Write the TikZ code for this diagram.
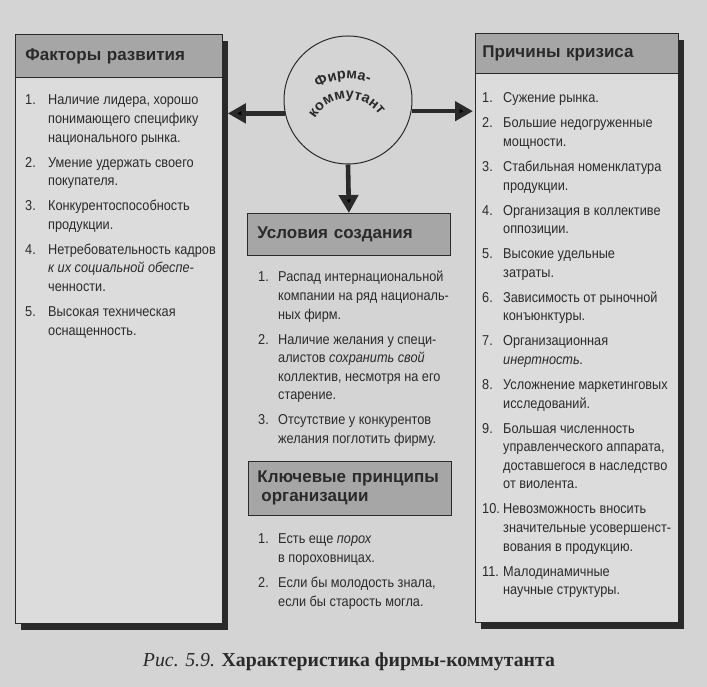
\documentclass[tikz,border=0pt]{standalone}
\usepackage{fontspec}
\setmainfont{Liberation Sans}
\newfontfamily\bodyf[FakeStretch=0.89]{Liberation Sans}
\newfontfamily\capf{Liberation Serif}
\usetikzlibrary{arrows.meta,shadows,decorations.text,calc}
\definecolor{paper}{HTML}{D4D4D4}
\definecolor{boxc}{HTML}{DCDCDC}
\definecolor{headc}{HTML}{A6A6A6}
\definecolor{ink}{HTML}{2A2A2A}
\newcommand\headfont{\bfseries\fontsize{17}{19}\selectfont}
\newcommand\circfont{\bfseries\fontsize{14.5}{16}\selectfont}
\begin{document}
\begin{tikzpicture}[x=1pt,y=1pt,
  box/.style={draw=ink, line width=0.8pt, fill=boxc, inner sep=0pt, anchor=north west},
  shade/.style={drop shadow={shadow xshift=6pt, shadow yshift=-7pt, fill=ink, opacity=1}},
  head/.style={draw=ink, line width=0.8pt, fill=headc, anchor=north west, inner ysep=0pt, text=ink, font=\headfont, align=left},
  list/.style={anchor=base west, inner sep=0pt, text=ink, font=\bodyf\fontsize{14.3}{18.6}\selectfont},
  arr/.style={draw=ink, line width=4.6pt, -{Triangle[length=18pt,width=19pt]}}
]
\fill[paper] (0,0) rectangle (707,687);
\useasboundingbox (0,0) rectangle (707,687);

% left box
\node[box, shade, minimum width=207pt, minimum height=589pt] (lbox) at (15,653) {};
\node[head, inner xsep=10pt, text width=187pt, minimum height=43pt] (lhead) at (15,653) {Факторы развития};
\node[list] (llist) at (25,582) {\begin{tabular}[t]{@{}p{23pt}@{}l@{}}
1. & Наличие лидера, хорошо\\
   & понимающего специфику\\
   & национального рынка.\\[6.4pt]
2. & Умение удержать своего\\
   & покупателя.\\[6.4pt]
3. & Конкурентоспособность\\
   & продукции.\\[6.4pt]
4. & Нетребовательность кадров\\
   & \textit{к их социальной обеспе-}\\
   & ченности.\\[6.4pt]
5. & Высокая техническая\\
   & оснащенность.
\end{tabular}};

% right box
\node[box, shade, minimum width=203pt, minimum height=589pt] (rbox) at (475,654) {};
\node[head, inner xsep=7pt, text width=189pt, minimum height=40pt] (rhead) at (475,654) {Причины кризиса};
\node[list] (rlist) at (482,584) {\begin{tabular}[t]{@{}p{21pt}@{}l@{}}
1. & Сужение рынка.\\[6.4pt]
2. & Большие недогруженные\\
   & мощности.\\[6.4pt]
3. & Стабильная номенклатура\\
   & продукции.\\[6.4pt]
4. & Организация в коллективе\\
   & оппозиции.\\[6.4pt]
5. & Высокие удельные\\
   & затраты.\\[6.4pt]
6. & Зависимость от рыночной\\
   & конъюнктуры.\\[6.4pt]
7. & Организационная\\
   & \textit{инертность.}\\[6.4pt]
8. & Усложнение маркетинговых\\
   & исследований.\\[6.4pt]
9. & Большая численность\\
   & управленческого аппарата,\\
   & доставшегося в наследство\\
   & от виолента.\\[6.4pt]
10. & Невозможность вносить\\
   & значительные усовершенст-\\
   & вования в продукцию.\\[6.4pt]
11. & Малодинамичные\\
   & научные структуры.
\end{tabular}};

% centre
\node[circle, draw=ink, line width=1pt, fill=paper, minimum size=128pt, inner sep=0pt] (circ) at (348,587) {};
\coordinate (tc) at (348,550);
\path[decorate, decoration={text along path, text={|\circfont|Фирма-}, text align=center, text color=ink}]
  ([shift={(175:58)}]tc) arc[start angle=175, end angle=15, radius=58];
\path[decorate, decoration={text along path, text={|\circfont|коммутант}, text align=center, text color=ink}]
  ([shift={(180:38)}]tc) arc[start angle=180, end angle=5, radius=38];

\node[head, inner xsep=10pt, text width=183pt, minimum height=42pt] (ubox) at (247,474) {Условия создания};
\node[list] (ulist) at (258,405) {\begin{tabular}[t]{@{}p{20pt}@{}l@{}}
1. & Распад интернациональной\\
   & компании на ряд националь-\\
   & ных фирм.\\[6.4pt]
2. & Наличие желания у специ-\\
   & алистов \textit{сохранить свой}\\
   & коллектив, несмотря на его\\
   & старение.\\[6.4pt]
3. & Отсутствие у конкурентов\\
   & желания поглотить фирму.
\end{tabular}};

\node[head, inner xsep=9pt, text width=185pt, minimum height=54pt] (kbox) at (248,226) {Ключевые принципы\\\hspace*{4pt}организации};
\node[list] (klist) at (258,143) {\begin{tabular}[t]{@{}p{20pt}@{}l@{}}
1. & Есть еще \textit{порох}\\
   & в пороховницах.\\[6.4pt]
2. & Если бы молодость знала,\\
   & если бы старость могла.
\end{tabular}};

% arrows
\draw[arr] (circ.192) -- ($(circ.192 -| lbox.east)+(5,0)$);
\draw[arr] (circ.-10) -- ($(circ.-10 -| rbox.west)+(-2,0)$);
\draw[arr] (circ.south) -- (ubox.north);

% caption
\node[font=\capf\fontsize{19.8}{23}\selectfont, text=ink] (cap) at (349,25) {\textit{Рис. 5.9.} \textbf{Характеристика фирмы-коммутанта}};
\end{tikzpicture}
\end{document}
